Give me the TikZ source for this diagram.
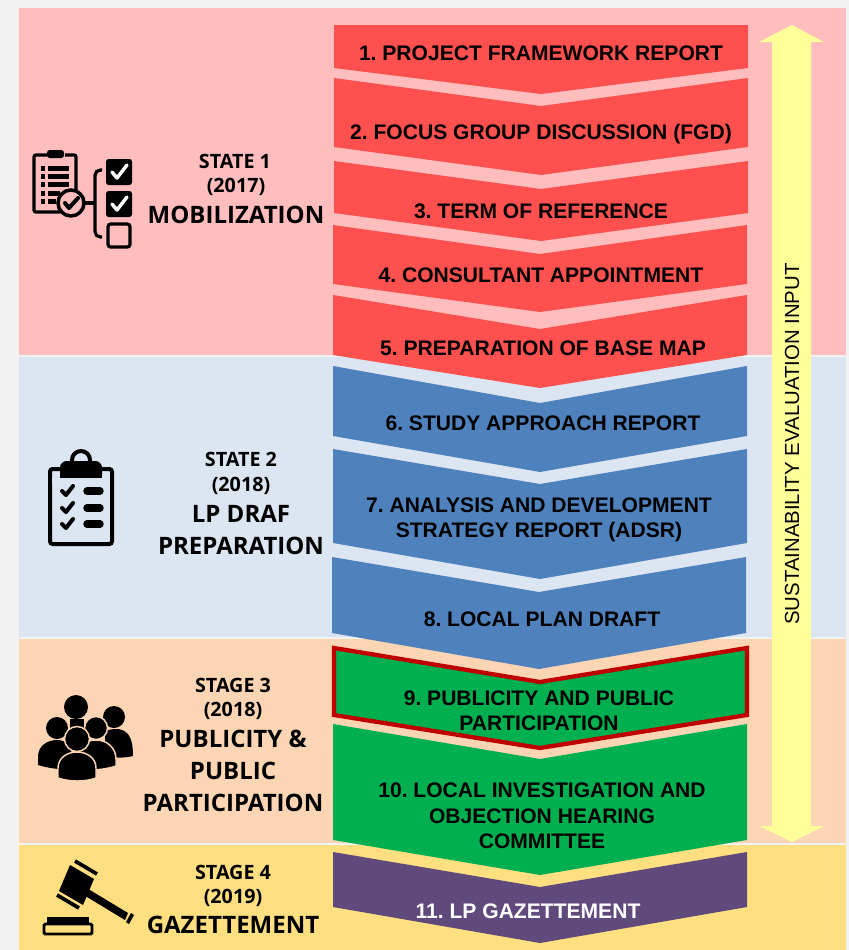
\documentclass[tikz,border=0pt]{standalone}
\usepackage{fontspec}
\setmainfont{Liberation Sans}
\newfontfamily\stagefont{Open Sans}
\usepackage{tikz}

\definecolor{pagegrey}{HTML}{F2F2F2}
\definecolor{pinkbg}{HTML}{FFBDBD}
\definecolor{bluebg}{HTML}{DCE6F2}
\definecolor{peachbg}{HTML}{FCD5B5}
\definecolor{yellowbg}{HTML}{FFDF7F}
\definecolor{redstep}{HTML}{FF5050}
\definecolor{bluestep}{HTML}{4F81BD}
\definecolor{greenstep}{HTML}{00B050}
\definecolor{purplestep}{HTML}{604A7B}
\definecolor{darkrim}{HTML}{C00000}
\definecolor{paleyellow}{HTML}{FFFF99}

\tikzset{
steplabel/.style={align=center,inner sep=0pt,font=\fontsize{15.8}{19}\selectfont\bfseries\frenchspacing},
stagesmall/.style={inner sep=0pt,font=\fontsize{14.8}{17}\selectfont\stagefont\bfseries},
stagebig/.style={inner sep=0pt,font=\fontsize{18}{21}\selectfont\stagefont\bfseries},
iconline/.style={draw=black,line width=2.4pt},
person/.style={fill=black,draw=peachbg,line width=1.1pt},
tickmark/.style={draw=white,line width=2.6pt,line cap=round,line join=round},
blacktick/.style={draw=black,line width=3pt,line cap=round,line join=round},
}

\begin{document}
\begin{tikzpicture}[x=0.75pt,y=-0.75pt]
\useasboundingbox (0,0) rectangle (849,950);

\fill[pagegrey](0,0) rectangle (849,950);
\fill[pinkbg](19,8) rectangle (846,355);
\fill[bluebg](19,357) rectangle (846,637);
\fill[peachbg](19,639) rectangle (846,843);
\fill[yellowbg](19,845) rectangle (846,950);

% red steps
\fill[redstep](334,25)--(748,25)--(748,68)--(541,94)--(334,68)--cycle;
\fill[redstep](334,78)--(541,106)--(748,78)--(748,147)--(541,175)--(334,147)--cycle;
\fill[redstep](334,161)--(541,189)--(748,161)--(748,213)--(541,241)--(334,213)--cycle;
\fill[redstep](333,225)--(540,254)--(747,225)--(747,284)--(540,312)--(333,284)--cycle;
\fill[redstep](333,295)--(540,329)--(747,295)--(747,355)--(540,388)--(333,355)--cycle;

% blue steps
\fill[bluestep](333,366)--(540,403)--(747,366)--(747,436)--(540,472)--(333,436)--cycle;
\fill[bluestep](333,449)--(540,484)--(747,449)--(747,543)--(540,579)--(333,543)--cycle;
\fill[bluestep](332,557)--(539,592)--(746,557)--(746,633)--(539,669)--(332,633)--cycle;

% green and purple steps
\filldraw[fill=greenstep,draw=darkrim,line width=3.2pt,miter limit=10](334,648)--(540,682)--(747,648)--(747,715)--(540,748)--(334,715)--cycle;
\fill[greenstep](333,724)--(540,759)--(747,724)--(747,840)--(540,875)--(333,840)--cycle;
\fill[purplestep](333,852)--(540,887)--(747,852)--(747,907)--(540,943)--(333,907)--cycle;

% two way arrow
\fill[paleyellow](792,25)--(824,42)--(811,42)--(811,826)--(824,826)--(792,842)--(759,826)--(772,826)--(772,42)--(759,42)--cycle;
\node[rotate=90,inner sep=0pt,font=\fontsize{15.3}{18}\selectfont] (inputlabel) at (792,444) {SUSTAINABILITY EVALUATION INPUT};

% step labels
\node[steplabel] (step1) at (541,53) {1. PROJECT FRAMEWORK REPORT};
\node[steplabel] (step2) at (541,134) {2. FOCUS GROUP DISCUSSION (FGD)};
\node[steplabel] (step3) at (541,211) {3. TERM OF REFERENCE};
\node[steplabel] (step4) at (541,275) {4. CONSULTANT APPOINTMENT};
\node[steplabel] (step5) at (543,348) {5. PREPARATION OF BASE MAP};
\node[steplabel] (step6) at (543,423) {6. STUDY APPROACH REPORT};
\node[steplabel] (step7) at (539,520) {7. ANALYSIS AND DEVELOPMENT\\STRATEGY REPORT (ADSR)};
\node[steplabel] (step8) at (542,619) {8. LOCAL PLAN DRAFT};
\node[steplabel] (step9) at (539,711) {9. PUBLICITY AND PUBLIC\\PARTICIPATION};
\node[steplabel] (step10) at (542,816) {10. LOCAL INVESTIGATION AND\\OBJECTION HEARING\\COMMITTEE};
\node[steplabel,text=white] (step11) at (528,911) {11. LP GAZETTEMENT};

% stage labels
\node[stagesmall] (state1) at (235,161) {STATE 1};
\node[stagesmall] (year1) at (236,187) {(2017)};
\node[stagebig] (mobil) at (236,215) {MOBILIZATION};
\node[stagesmall] (state2) at (241,459) {STATE 2};
\node[stagesmall] (year2) at (241,486) {(2018)};
\node[stagebig] (draf) at (241,514) {LP DRAF};
\node[stagebig] (prep) at (241,546) {PREPARATION};
\node[stagesmall] (stage3) at (233,685) {STAGE 3};
\node[stagesmall] (year3) at (233,711) {(2018)};
\node[stagebig] (publicity) at (233,739) {PUBLICITY \&};
\node[stagebig] (public) at (233,771) {PUBLIC};
\node[stagebig] (partic) at (233,803) {PARTICIPATION};
\node[stagesmall] (stage4) at (233,872) {STAGE 4};
\node[stagesmall] (year4) at (233,898) {(2019)};
\node[stagebig] (gazette) at (233,925) {GAZETTEMENT};

% checklist icon
\draw[iconline,rounded corners=1.5pt](47,155)--(34,155)--(34,212)--(60,212);
\draw[iconline,rounded corners=1.5pt](65,155)--(76,155)--(76,192);
\fill[black,rounded corners=2pt](47,150) rectangle (64,158);
\fill[black](41,166) rectangle (45,171);
\fill[black](48,166) rectangle (69,171);
\fill[black](41,174) rectangle (45,179);
\fill[black](48,174) rectangle (69,179);
\fill[black](41,182) rectangle (45,187);
\fill[black](48,182) rectangle (69,187);
\fill[black](41,191) rectangle (45,196);
\fill[black](48,191) rectangle (60,196);
\fill[black](41,199) rectangle (45,204);
\fill[black](48,199) rectangle (56,204);
\filldraw[fill=pinkbg,draw=black,line width=2.6pt](71,203) circle (13);
\draw[blacktick](65,203)--(69,208)--(78,198);
\draw[iconline,rounded corners=4pt](102,170)--(95,170)--(95,237)--(102,237);
\draw[iconline](85,203)--(95,203);
\fill[black,rounded corners=2pt](106,159) rectangle (132,185);
\draw[tickmark](112,172)--(117,178)--(127,165);
\fill[black,rounded corners=2pt](106,191) rectangle (132,217);
\draw[tickmark](112,204)--(117,210)--(127,197);
\draw[iconline,rounded corners=2pt](108,224) rectangle (130,247);

% clipboard icon
\draw[black,line width=3pt,rounded corners=2pt](50,469) rectangle (112,544);
\draw[black,line width=3pt](81,460) circle (9);
\fill[black,rounded corners=5pt](60,482)--(60,461)--(102,461)--(102,482)--cycle;
\fill[black](60,472) rectangle (102,478);
\fill[bluebg](52,478) rectangle (110,483);
\draw[blacktick](62,491)--(66,495)--(73,486);
\draw[blacktick](62,508)--(66,512)--(73,503);
\draw[blacktick](62,524)--(66,528)--(73,519);
\draw[black,line width=5.6pt,line cap=round](87,491)--(100,491);
\draw[black,line width=5.6pt,line cap=round](87,508)--(100,508);
\draw[black,line width=5.6pt,line cap=round](87,524)--(100,524);

% people icon
\fill[black](76,707) circle (12);
\fill[black](70,719) rectangle (84,730);
\fill[black](114,717) circle (11);
\fill[black](105,731)..controls (111,729) and (118,728) .. (122,730)..controls (130,733) and (133,741) .. (133,756)..controls (125,758) and (115,758) .. (105,757)--cycle;
\fill[black](57,728) circle (11);
\fill[black](38,765)--(38,757)..controls (38,746) and (47,740) .. (57,740)..controls (66,740) and (72,746) .. (72,757)--(72,769)..controls (60,770) and (48,768) .. (38,765)--cycle;
\filldraw[person](96,728) circle (11.5);
\filldraw[person](77,769)--(77,755)..controls (77,746) and (86,740) .. (96,740)..controls (107,740) and (116,748) .. (116,759)--(116,766)..controls (104,770) and (90,771) .. (77,769)--cycle;
\filldraw[person](77,739) circle (12.5);
\filldraw[person](58,778)--(58,768)..controls (58,758) and (67,752) .. (77,752)..controls (87,752) and (96,758) .. (96,768)--(96,778)..controls (85,782) and (70,782) .. (58,778)--cycle;

% gavel icon
\fill[black](70,865)--(94,879)--(83,905)--(59,891)--cycle;
\draw[black,line width=2.8pt](75,861)--(97,874);
\draw[black,line width=2.8pt](57,895)--(79,908);
\fill[black](85,887)--(128,913)--(125,920)--(82,894)--cycle;
\fill[black](131,913)--(134,915)--(129,924)--(126,922)--cycle;
\fill[black](47,917) rectangle (89,924);
\draw[black,line width=2.2pt,rounded corners=1pt](44,924) rectangle (92,934);

\end{tikzpicture}
\end{document}
